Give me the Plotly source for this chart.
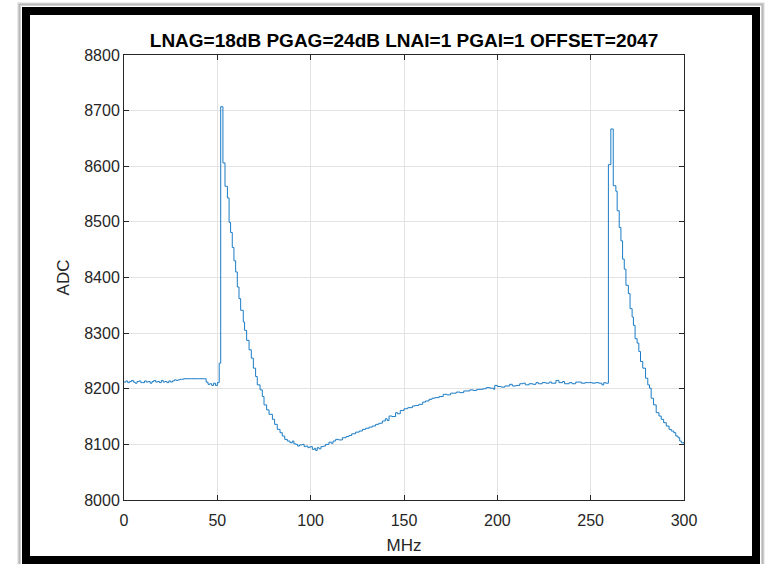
import plotly.graph_objects as go

# Swept ADC level vs. frequency
freq_mhz = [
    0, 1, 2, 3, 4, 5, 6, 7, 8, 9, 10, 11, 12, 13, 14, 15, 16, 17, 18, 19,
    20, 21, 22, 23, 24, 25, 26, 27, 28, 29, 30, 31, 32, 36, 40, 43, 44, 45,
    46, 47, 48, 49, 50, 51, 51.8, 53, 54.1, 55.4, 56.3, 57.1, 58, 58.9, 59.8,
    60.7, 61.6, 62.5, 63.9, 64.6, 65.7, 67, 68.2, 69.3, 70.5, 71.4, 72.9,
    74.1, 75, 76.4, 77.7, 79.5, 80.7, 82.1, 83.6, 84.8, 86.1, 87.5, 88.9,
    90.2, 91, 92, 93, 94, 95.5, 96.5, 97.3, 98.5, 99.1, 100, 100.9, 102,
    102.7, 103.5, 104.5, 105.5, 107, 108, 109.8, 111, 112, 113.4, 115, 117,
    119, 120.5, 122, 124, 126, 127.7, 129.5, 131.3, 133, 134.8, 136.5, 138.4,
    140, 141, 142, 143.5, 145.5, 146.5, 148, 150, 152, 154.5, 156, 158, 160,
    161.5, 163.4, 165, 166.5, 168.8, 171, 173, 175, 178, 180, 182, 185.3, 187,
    189, 192.4, 194, 196, 198, 198.6, 200, 202, 204, 206.6, 208, 210, 212,
    213.7, 215, 217, 219, 220.7, 222, 224, 226, 227.8, 229, 231.4, 233, 235,
    236, 238.5, 240, 242, 243.8, 245, 247, 249, 251, 252.5, 254.3, 256, 257,
    258, 259.5, 260.8, 262.1, 263.5, 264.2, 265.3, 266.2, 267.1, 268, 268.9,
    270.2, 271.1, 272.2, 272.9, 273.8, 274.9, 275.8, 276.7, 277.9, 279.4,
    280.6, 281.5, 282.4, 283.7, 285.1, 286.6, 287.8, 289.1, 290.5, 292,
    293.2, 294.5, 295.6, 296.8, 297.7, 298.6, 300,
]
adc = [
    8212, 8214, 8211, 8213, 8215, 8212, 8210, 8213, 8214, 8211, 8211, 8214,
    8212, 8213, 8210, 8213, 8215, 8212, 8213, 8211, 8215, 8212, 8213, 8211,
    8214, 8212, 8214, 8216, 8215, 8216, 8217, 8217, 8218, 8218, 8218, 8218,
    8212, 8208, 8209, 8206, 8210, 8206, 8211, 8246, 8707, 8606, 8564, 8543,
    8499, 8481, 8454, 8430, 8410, 8383, 8362, 8341, 8320, 8305, 8287, 8270,
    8255, 8237, 8222, 8207, 8198, 8186, 8171, 8162, 8154, 8145, 8136, 8127,
    8121, 8115, 8109, 8106, 8103, 8106, 8101, 8100, 8097, 8099, 8100, 8096,
    8097, 8094, 8095, 8096, 8091, 8093, 8089, 8094, 8092, 8096, 8097, 8100,
    8104, 8102, 8106, 8109, 8108, 8112, 8114, 8116, 8119, 8122, 8124, 8127,
    8129, 8131, 8133, 8136, 8138, 8142, 8146, 8143, 8151, 8150, 8157, 8155,
    8161, 8164, 8166, 8169, 8170, 8172, 8176, 8178, 8181, 8183, 8184, 8186,
    8190, 8189, 8192, 8194, 8193, 8196, 8198, 8197, 8199, 8200, 8202, 8201,
    8199, 8206, 8204, 8203, 8205, 8208, 8205, 8206, 8209, 8210, 8207, 8209,
    8208, 8211, 8209, 8211, 8210, 8212, 8210, 8215, 8211, 8213, 8209, 8211,
    8209, 8212, 8212, 8210, 8211, 8211, 8210, 8211, 8210, 8207, 8211, 8210,
    8603, 8667, 8565, 8555, 8520, 8490, 8466, 8433, 8415, 8386, 8371, 8344,
    8329, 8314, 8290, 8282, 8267, 8249, 8237, 8219, 8207, 8201, 8183, 8171,
    8157, 8151, 8145, 8139, 8133, 8127, 8124, 8121, 8115, 8112, 8106, 8103,
    8101,
]

x_ticks = [0, 50, 100, 150, 200, 250, 300]
y_ticks = [8000, 8100, 8200, 8300, 8400, 8500, 8600, 8700, 8800]

W, H = 771, 564
L, R, T, B = 124, 684, 55, 500   # plot-area edges in pixels

def px(x):
    return (x - L) / (R - L)

def py(y):
    return (B - y) / (B - T)

FONT = "Liberation Sans, Arial, Helvetica, sans-serif"
AXIS = "#262626"

fig = go.Figure()
fig.add_trace(go.Scatter(
    x=freq_mhz, y=adc, mode="lines",
    line=dict(color="#1a7cc6", width=1, shape="hv"),
    showlegend=False, hoverinfo="skip",
))

axis_common = dict(
    showline=True, linecolor=AXIS, linewidth=1, mirror="ticks",
    ticks="inside", ticklen=5, tickcolor=AXIS, tickwidth=1,
    showgrid=True, gridcolor="#e3e3e3", gridwidth=1, zeroline=False,
    tickfont=dict(family=FONT, size=16, color=AXIS),
)

fig.update_xaxes(
    range=[0, 300], tickvals=x_ticks, ticktext=[str(v) for v in x_ticks],
    ticklabelstandoff=6,
    title=dict(text="MHz", font=dict(family=FONT, size=17, color=AXIS), standoff=10),
    **axis_common,
)
fig.update_yaxes(
    range=[8000, 8800], tickvals=y_ticks, ticktext=[str(v) for v in y_ticks],
    title=dict(text="ADC", font=dict(family=FONT, size=17, color=AXIS), standoff=10),
    **axis_common,
)

# Window frame with a soft drop shadow
shapes = []
for grow, alpha in [(4, 0.08), (3, 0.12), (2, 0.18)]:
    shapes.append(dict(
        type="rect", xref="paper", yref="paper", layer="below",
        x0=px(22 - grow), x1=px(760 + grow), y0=py(564 + grow), y1=py(7 - grow),
        line=dict(color=f"rgba(0,0,0,{alpha})", width=2), fillcolor="rgba(0,0,0,0)",
    ))
shapes.append(dict(
    type="rect", xref="paper", yref="paper", layer="above",
    x0=px(26), x1=px(756), y0=py(560), y1=py(11),
    line=dict(color="black", width=8), fillcolor="rgba(0,0,0,0)",
))

fig.update_layout(
    width=W, height=H,
    margin=dict(l=L, r=W - R, t=T, b=H - B, pad=0),
    paper_bgcolor="white", plot_bgcolor="white",
    font=dict(family=FONT, color=AXIS),
    title=dict(
        text="<b>LNAG=18dB PGAG=24dB LNAI=1 PGAI=1 OFFSET=2047</b>",
        font=dict(family=FONT, size=19, color="black"),
        x=0.5, xref="paper", xanchor="center",
        y=1 - 40 / H, yref="container", yanchor="middle",
    ),
    shapes=shapes,
)

fig.write_html("out.html")
